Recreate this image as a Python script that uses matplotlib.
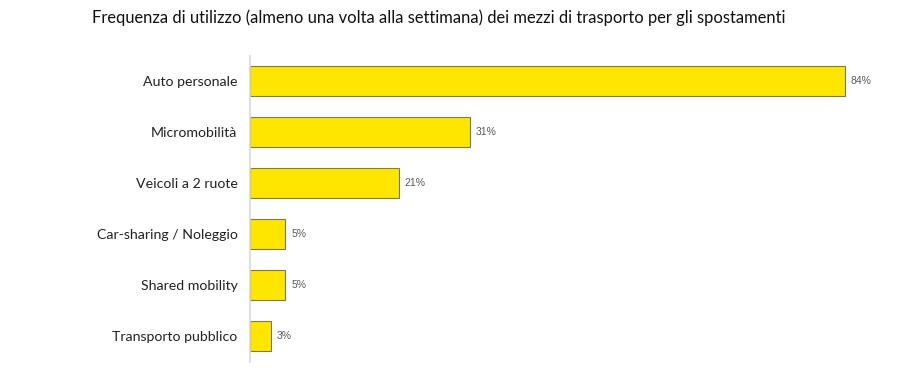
import matplotlib.pyplot as plt

categories = ["Auto personale", "Micromobilità", "Veicoli a 2 ruote",
              "Car-sharing / Noleggio", "Shared mobility", "Transporto pubblico"]
values = [84, 31, 21, 5, 5, 3]
title = "Frequenza di utilizzo (almeno una volta alla settimana) dei mezzi di trasporto per gli spostamenti"

fig = plt.figure(figsize=(9.15, 3.76), dpi=100)
ax = fig.add_axes([250 / 915, 14.5 / 376, 630 / 915, 306 / 376])

y = range(len(categories))
ax.barh(y, values, height=0.57, color="#FFE600", edgecolor="#7f7a4a", linewidth=0.8)
for yi, v in zip(y, values):
    ax.text(v + 0.8, yi, f"{v}%", va="center", ha="left", fontsize=7.5,
            color="#595959", family="Liberation Sans")

ax.set_xlim(0, 630 / 7.083)
ax.set_ylim(len(categories) - 0.5, -0.5)
ax.set_yticks(list(y))
ax.set_yticklabels(categories, fontsize=10.2, family="Lato", color="#222222")
ax.tick_params(axis="y", length=0, pad=9)
ax.set_xticks([])
for s in ["top", "right", "bottom"]:
    ax.spines[s].set_visible(False)
ax.spines["left"].set_color("#d9d9d9")
ax.spines["left"].set_linewidth(1.2)

fig.text(92 / 915, 1 - 18 / 376, title, ha="left", va="center", fontsize=11.9,
         family="Lato", color="#111111")

fig.savefig("out.png", dpi=100)
